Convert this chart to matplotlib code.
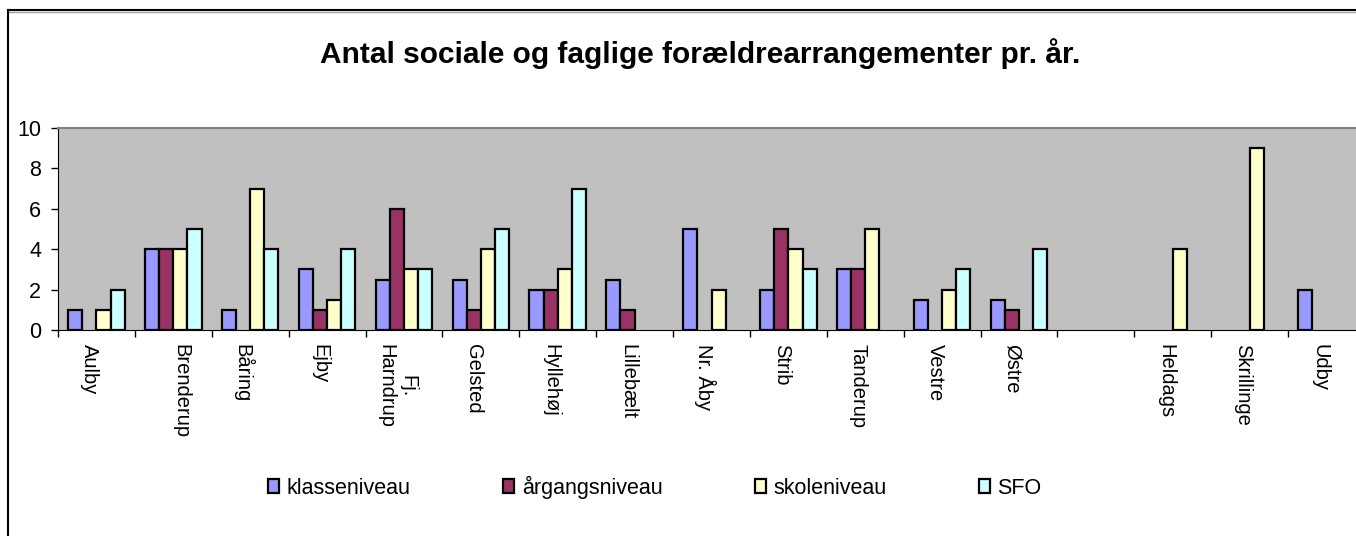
import matplotlib
matplotlib.use("Agg")
import matplotlib.pyplot as plt
import matplotlib.transforms as mtransforms
import numpy as np
from matplotlib.lines import Line2D

categories = ["Aulby", "Brenderup", "Båring", "Ejby", "Fj.\nHarndrup", "Gelsted",
              "Hyllehøj", "Lillebælt", "Nr. Åby", "Strib", "Tanderup", "Vestre",
              "Østre", "", "Heldags", "Skrillinge", "Udby"]
series_names = ["klasseniveau", "årgangsniveau", "skoleniveau", "SFO"]
klasseniveau = [1, 4, 1, 3, 2.5, 2.5, 2, 2.5, 5, 2, 3, 1.5, 1.5, 0, 0, 0, 2]
aargangsniveau = [0, 4, 0, 1, 6, 1, 2, 1, 0, 5, 3, 0, 1, 0, 0, 0, 0]
skoleniveau = [1, 4, 7, 1.5, 3, 4, 3, 0, 2, 4, 5, 2, 0, 0, 4, 9, 0]
sfo = [2, 5, 4, 4, 3, 5, 7, 0, 0, 3, 0, 3, 4, 0, 0, 0, 0]
yticks = [0, 2, 4, 6, 8, 10]
title = "Antal sociale og faglige forældrearrangementer pr. år."

colors = ["#9999FF", "#993366", "#FFFFCC", "#CCFFFF"]

plt.rcParams['font.family'] = ['Liberation Sans', 'DejaVu Sans']

W, H = 1356, 536
fig = plt.figure(figsize=(W / 100, H / 100), dpi=100)

def fx(px):
    return px / W

def fy(py):
    return 1 - py / H

left, right, top, bottom = 58, 1365, 128, 330
ax = fig.add_axes([fx(left), fy(bottom), fx(right - left), (bottom - top) / H])
ax.set_facecolor("#C0C0C0")

x = np.arange(len(categories))
bw = 0.184
all_series = [klasseniveau, aargangsniveau, skoleniveau, sfo]
for j, (name, vals) in enumerate(zip(series_names, all_series)):
    v = np.asarray(vals, dtype=float)
    keep = v > 0
    ax.bar(x[keep] + (j - 1.5) * bw, v[keep], width=bw, color=colors[j],
           edgecolor="black", linewidth=1.6, label=name, zorder=3)

ax.set_xlim(-0.5, len(categories) - 0.5)
ax.set_ylim(0, 10)
ax.set_yticks(yticks)
ax.set_yticklabels([str(v) for v in yticks], fontsize=15.5)
ax.tick_params(axis="y", direction="out", length=5, width=1, pad=7, colors="black")

ax.set_xticks(np.arange(len(categories) + 1) - 0.5)
ax.set_xticklabels([])
ax.tick_params(axis="x", which="major", direction="out", length=5, width=1, colors="black")
ax.set_xticks(x - 0.09, minor=True)
ax.set_xticklabels(categories, minor=True, rotation=-90, fontsize=14.5,
                   va="top", ha="center", multialignment="center")
ax.tick_params(axis="x", which="minor", length=0, pad=10)

# Brenderup label sits further right in the original
for lbl in ax.get_xticklabels(minor=True):
    if lbl.get_text() == "Brenderup":
        lbl.set_transform(lbl.get_transform() +
                          mtransforms.ScaledTranslation(14 / 100, 0, fig.dpi_scale_trans))

for s in ["top", "right"]:
    ax.spines[s].set_color("#808080")
    ax.spines[s].set_linewidth(1.5)
ax.spines["left"].set_color("black")
ax.spines["bottom"].set_color("black")

fig.text(fx(700), fy(63), title, fontsize=21.5, fontweight="bold",
         ha="center", va="baseline")

# chart border
fig.add_artist(Line2D([fx(8), fx(1360)], [fy(10), fy(10)], color="black", lw=1.5,
                      transform=fig.transFigure))
fig.add_artist(Line2D([fx(8), fx(1360)], [fy(12), fy(12)], color="#A0A0A0", lw=1,
                      transform=fig.transFigure))
fig.add_artist(Line2D([fx(8), fx(8)], [fy(10), fy(540)], color="black", lw=1.5,
                      transform=fig.transFigure))

handles, labels = ax.get_legend_handles_labels()
leg = fig.legend(handles, labels, loc="center", bbox_to_anchor=(fx(655), fy(487)),
                 ncol=4, frameon=False, fontsize=15.5, handlelength=0.5,
                 handleheight=0.6, handletextpad=0.35, columnspacing=4.3)

fig.savefig("out.png", dpi=100)
